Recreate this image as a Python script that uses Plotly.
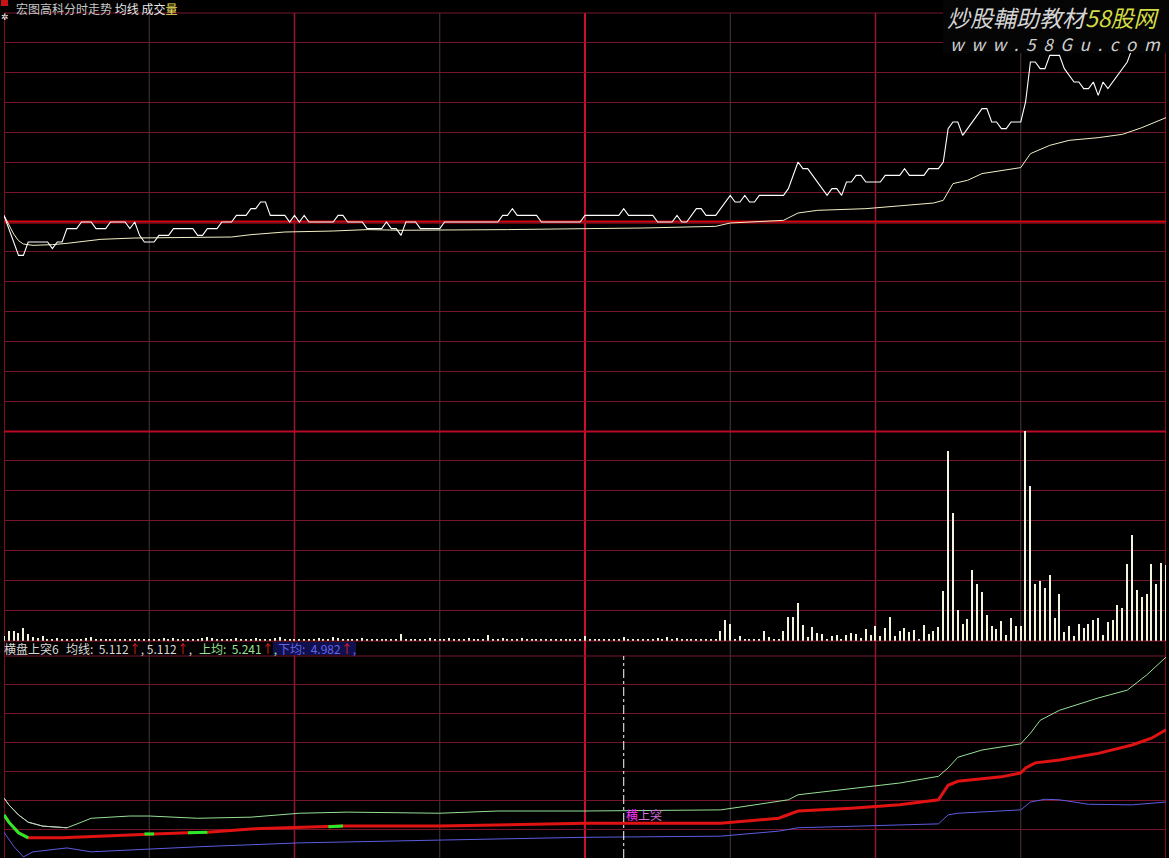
import plotly.graph_objects as go

W, H = 1169, 858

# ---------------- data ----------------
minutes = list(range(241))
prev_close = 4.96

price = [
    4.97, 4.95, 4.93, 4.91, 4.91, 4.93, 4.93, 4.93, 4.93, 4.93,
    4.92, 4.93, 4.93, 4.95, 4.95, 4.95, 4.96, 4.96, 4.96, 4.95,
    4.95, 4.95, 4.96, 4.96, 4.96, 4.96, 4.95, 4.96, 4.94, 4.93,
    4.93, 4.93, 4.94, 4.94, 4.94, 4.95, 4.95, 4.95, 4.95, 4.95,
    4.94, 4.94, 4.95, 4.95, 4.95, 4.96, 4.96, 4.96, 4.97, 4.97,
    4.97, 4.98, 4.98, 4.99, 4.99, 4.97, 4.97, 4.97, 4.97, 4.96,
    4.97, 4.96, 4.97, 4.96, 4.96, 4.96, 4.96, 4.96, 4.96, 4.97,
    4.97, 4.96, 4.96, 4.96, 4.96, 4.95, 4.95, 4.95, 4.95, 4.96,
    4.95, 4.95, 4.94, 4.96, 4.96, 4.96, 4.95, 4.95, 4.95, 4.95,
    4.95, 4.96, 4.96, 4.96, 4.96, 4.96, 4.96, 4.96, 4.96, 4.96,
    4.96, 4.96, 4.96, 4.97, 4.97, 4.98, 4.97, 4.97, 4.97, 4.97,
    4.97, 4.96, 4.96, 4.96, 4.96, 4.96, 4.96, 4.96, 4.96, 4.96,
    4.97, 4.97, 4.97, 4.97, 4.97, 4.97, 4.97, 4.97, 4.98, 4.97,
    4.97, 4.97, 4.97, 4.97, 4.97, 4.96, 4.96, 4.96, 4.96, 4.97,
    4.96, 4.96, 4.97, 4.98, 4.98, 4.97, 4.97, 4.97, 4.98, 4.99,
    5.00, 4.99, 4.99, 5.00, 4.99, 4.99, 5.00, 5.00, 5.00, 5.00,
    5.00, 5.00, 5.01, 5.03, 5.05, 5.04, 5.04, 5.03, 5.02, 5.01,
    5.00, 5.01, 5.01, 5.00, 5.02, 5.02, 5.03, 5.03, 5.02, 5.02,
    5.02, 5.02, 5.03, 5.03, 5.03, 5.03, 5.04, 5.03, 5.03, 5.03,
    5.03, 5.04, 5.04, 5.04, 5.05, 5.10, 5.11, 5.11, 5.09, 5.10,
    5.11, 5.12, 5.13, 5.13, 5.11, 5.11, 5.10, 5.10, 5.11, 5.11,
    5.11, 5.14, 5.20, 5.20, 5.19, 5.19, 5.21, 5.21, 5.21, 5.19,
    5.18, 5.17, 5.17, 5.16, 5.16, 5.17, 5.15, 5.17, 5.16, 5.17,
    5.18, 5.19, 5.20, 5.22, 5.23, 5.24, 5.25, 5.25, 5.26, 5.27, 5.27,
]

avg_minutes = [0, 1, 2, 3, 4, 6, 10, 13, 20, 27, 47, 51, 58, 68, 75, 82, 97, 104,
               120, 132, 147, 150, 161, 164, 168, 178, 192, 194, 196, 199, 202,
               206, 210, 212, 216, 220, 226, 231, 235, 240]
avg_price = [4.970, 4.955, 4.942, 4.932, 4.927, 4.925, 4.926, 4.928, 4.934, 4.936,
             4.9375, 4.941, 4.945, 4.9465, 4.9486, 4.9476, 4.9476, 4.9486,
             4.950, 4.951, 4.9535, 4.9585, 4.9625, 4.9735, 4.9775, 4.980, 4.9885,
             4.9925, 5.0176, 5.0225, 5.0326, 5.0375, 5.0416, 5.0625, 5.075,
             5.0825, 5.0865, 5.0915, 5.1015, 5.1165]

# volume, hundreds of lots per minute
volume = [
    5, 10, 10, 8, 13, 7, 4, 3, 5, 2,
    1, 3, 2, 1, 1, 1, 1, 3, 4, 2,
    1, 1, 1, 1, 1, 1, 1, 1, 1, 1,
    1, 1, 2, 3, 2, 3, 1, 1, 1, 1,
    1, 3, 4, 3, 1, 2, 1, 1, 3, 1,
    1, 2, 3, 2, 1, 1, 3, 4, 2, 1,
    1, 1, 2, 1, 2, 3, 2, 1, 4, 3,
    1, 1, 1, 2, 3, 1, 1, 1, 1, 1,
    2, 1, 7, 1, 1, 2, 1, 1, 3, 2,
    1, 2, 3, 2, 2, 1, 3, 2, 1, 2,
    6, 1, 2, 3, 2, 1, 1, 3, 2, 1,
    1, 1, 2, 1, 1, 1, 1, 1, 1, 1,
    5, 2, 1, 1, 1, 1, 1, 1, 4, 1,
    1, 1, 1, 1, 1, 3, 1, 4, 1, 3,
    1, 1, 1, 1, 1, 1, 2, 2, 10, 21,
    17, 2, 5, 2, 2, 2, 1, 10, 4, 2,
    2, 10, 24, 24, 38, 16, 4, 14, 8, 7,
    2, 5, 6, 2, 6, 8, 7, 3, 12, 6,
    15, 5, 13, 24, 5, 10, 13, 9, 11, 2,
    16, 7, 10, 14, 50, 189, 127, 31, 17, 22,
    70, 57, 49, 26, 15, 12, 20, 6, 23, 15,
    15, 209, 154, 57, 60, 53, 65, 23, 47, 9,
    15, 5, 17, 13, 17, 21, 23, 6, 19, 21,
    36, 33, 76, 105, 51, 44, 47, 76, 57, 77, 75,
]
volume_max = 209

# indicator 横盘上突6
up_minutes = [0, 1, 3, 5, 8, 13, 16, 18, 26, 30, 40, 51, 61, 71, 90, 102, 120, 148,
              152, 162, 164, 171, 179, 185, 193, 195, 197, 202, 210, 212, 214, 218,
              226, 232, 236, 240]
up_values = [4.989, 4.977, 4.959, 4.946, 4.939, 4.936, 4.946, 4.953, 4.957, 4.957,
             4.953, 4.955, 4.962, 4.964, 4.962, 4.966, 4.966, 4.968, 4.973, 4.986,
             4.995, 5.002, 5.009, 5.016, 5.028, 5.043, 5.062, 5.075, 5.086, 5.105,
             5.128, 5.146, 5.168, 5.182, 5.209, 5.241]
mid_minutes = [0, 1, 3, 5, 12, 20, 29, 31, 38, 42, 51, 61, 67, 70, 90, 102, 120, 148,
               160, 164, 175, 185, 193, 195, 197, 206, 210, 211, 213, 218, 226, 233,
               237, 240]
mid_values = [4.959, 4.946, 4.927, 4.918, 4.918, 4.921, 4.925, 4.925, 4.927, 4.928,
              4.934, 4.937, 4.938, 4.939, 4.939, 4.941, 4.944, 4.944, 4.953, 4.966,
              4.971, 4.977, 4.986, 5.012, 5.019, 5.027, 5.034, 5.043, 5.052, 5.057,
              5.069, 5.084, 5.096, 5.111]
low_minutes = [0, 2, 4, 6, 13, 18, 40, 61, 90, 120, 148, 160, 164, 179, 193, 195, 197,
               210, 212, 215, 218, 224, 233, 240]
low_values = [4.928, 4.903, 4.884, 4.893, 4.900, 4.893, 4.902, 4.909, 4.914, 4.919,
              4.921, 4.930, 4.936, 4.939, 4.943, 4.959, 4.962, 4.968, 4.982, 4.987,
              4.986, 4.978, 4.977, 4.982]
fall_spans = [(0, 5), (29, 31), (38, 42), (67, 70)]
signal_minute = 128
signal_value = 4.959
ind_range = [4.882, 5.243]
label_mid, label_up, label_low = 5.112, 5.241, 4.982

# ---------------- helpers ----------------
def py(y):
    return 1 - y / H

def px(x):
    return x / W

GRID = "rgb(118,22,44)"
FONT = "Noto Sans CJK SC"
UPC = "rgb(150,225,150)"
LOWC = "rgb(100,100,235)"
ARROW = "<span style='color:#E02020'>↑</span>"

fig = go.Figure()

# volume bars
fig.add_trace(go.Bar(x=minutes, y=volume, width=0.26,
                     marker=dict(color="#F4F4DC", line=dict(width=0)),
                     xaxis="x", yaxis="y2", hoverinfo="skip"))
# average price + price
fig.add_trace(go.Scatter(x=avg_minutes, y=avg_price, mode="lines",
                         line=dict(color="#F2F0C4", width=1), xaxis="x", yaxis="y",
                         hoverinfo="skip"))
fig.add_trace(go.Scatter(x=minutes, y=price, mode="lines",
                         line=dict(color="#FFFFFF", width=1.1), xaxis="x", yaxis="y",
                         hoverinfo="skip"))

# indicator lines
fig.add_trace(go.Scatter(x=low_minutes, y=low_values, mode="lines",
                         line=dict(color="rgb(92,92,225)", width=1), xaxis="x", yaxis="y3",
                         hoverinfo="skip"))
fig.add_trace(go.Scatter(x=up_minutes, y=up_values, mode="lines",
                         line=dict(color=UPC, width=1), xaxis="x", yaxis="y3",
                         hoverinfo="skip"))
fig.add_trace(go.Scatter(x=up_minutes[:6], y=up_values[:6], mode="lines",
                         line=dict(color="rgb(200,205,195)", width=1), xaxis="x", yaxis="y3",
                         hoverinfo="skip"))
fig.add_trace(go.Scatter(x=mid_minutes, y=mid_values, mode="lines",
                         line=dict(color="rgb(225,18,18)", width=3), xaxis="x", yaxis="y3",
                         hoverinfo="skip"))
gx, gy = [], []
for a, b in fall_spans:
    for m, v in zip(mid_minutes, mid_values):
        if a <= m <= b:
            gx.append(m)
            gy.append(v)
    gx.append(None)
    gy.append(None)
fig.add_trace(go.Scatter(x=gx, y=gy, mode="lines", connectgaps=False,
                         line=dict(color="rgb(40,235,40)", width=3), xaxis="x", yaxis="y3",
                         hoverinfo="skip"))

# ---------------- shapes ----------------
shapes = []
vcolors = {0: ("rgb(165,20,45)", 1.5), 30: ("rgb(72,56,62)", 1), 60: ("rgb(150,22,50)", 1.5),
           90: ("rgb(72,56,62)", 1), 120: ("rgb(205,15,45)", 2), 150: ("rgb(72,56,62)", 1),
           180: ("rgb(150,22,50)", 1.5), 210: ("rgb(72,56,62)", 1), 240: ("rgb(165,20,45)", 1.5)}
for m in range(0, 241, 30):
    c, w = vcolors[m]
    shapes.append(dict(type="line", xref="x", yref="paper", x0=m, x1=m,
                       y0=0, y1=py(13), line=dict(color=c, width=w), layer="below"))
# panel borders
for yy, c, w in [(13, GRID, 1), (431.5, "rgb(185,10,40)", 2), (641, "rgb(150,25,50)", 1),
                 (656, GRID, 1)]:
    shapes.append(dict(type="line", xref="paper", yref="paper", x0=px(4), x1=px(1166),
                       y0=py(yy), y1=py(yy), line=dict(color=c, width=w), layer="below"))
# previous close
shapes.append(dict(type="line", xref="paper", yref="y", x0=px(4), x1=px(1166),
                   y0=prev_close, y1=prev_close, line=dict(color="rgb(215,0,10)", width=3),
                   layer="below"))
# signal line
shapes.append(dict(type="line", xref="x", yref="paper", x0=signal_minute, x1=signal_minute,
                   y0=0, y1=py(656), line=dict(color="#FFFFFF", width=1, dash="dashdot")))
# highlight of 下均 label
shapes.append(dict(type="rect", xref="paper", yref="paper", x0=px(273), x1=px(356),
                   y0=py(655), y1=py(642), fillcolor="rgb(16,16,78)", line=dict(width=0),
                   layer="below"))
# watermark backing
shapes.append(dict(type="rect", xref="paper", yref="paper", x0=px(943), x1=1,
                   y0=py(53), y1=1, fillcolor="#050505", line=dict(width=0), layer="above"))
# small icon
shapes.append(dict(type="rect", xref="paper", yref="paper", x0=px(1), x1=px(8),
                   y0=py(6), y1=1, fillcolor="rgb(200,20,20)", line=dict(width=0)))

# ---------------- annotations ----------------
ann = []

def add_text(x, y, text, color, size=12, style="normal", pad=0):
    ann.append(dict(xref="paper", yref="paper", x=px(x), y=py(y), text=text,
                    showarrow=False, xanchor="left", yanchor="middle", borderpad=pad,
                    font=dict(family=FONT, size=size, color=color, style=style)))

add_text(15, 8.5, "宏图高科分时走势 <span style='color:#E8E8E8'>均线</span> "
         "<span style='color:#E8E8E8'>成交</span><span style='color:#F0E060'>量</span>",
         "#C8C8C8")
add_text(0, 16, "✲", "#FFFFFF", size=9)

# indicator header row
row_y = 648.5
add_text(3, row_y, "横盘上突6", "#D8D8D8")
add_text(65, row_y, f"均线:&nbsp; {label_mid:.3f}{ARROW}, {label_mid:.3f}{ARROW},",
         "#D8D8D8")
add_text(198, row_y, f"上均:&nbsp; {label_up:.3f}{ARROW},", UPC)
add_text(277, row_y, f"下均:&nbsp; {label_low:.3f}{ARROW},", LOWC)

# signal label
ann.append(dict(xref="x", yref="y3", x=signal_minute, y=signal_value,
                text="<span style='color:#FF30FF'>横</span>上突", showarrow=False,
                xanchor="left", yanchor="middle",
                font=dict(family=FONT, size=12, color="#D070D8")))

# watermark
add_text(946, 17, "炒股輔助教材<span style='color:#D4DC44'>58股网</span>", "#D4D4D4",
         size=23, style="italic")
add_text(949, 43, "w&nbsp;&nbsp;w&nbsp;&nbsp;w&nbsp;&nbsp;.&nbsp;&nbsp;5&nbsp;&nbsp;8&nbsp;&nbsp;"
         "G&nbsp;&nbsp;u&nbsp;&nbsp;.&nbsp;&nbsp;c&nbsp;&nbsp;o&nbsp;&nbsp;m", "#CFCFCF",
         size=17, style="italic")

# ---------------- layout ----------------
half = 0.3135
fig.update_layout(
    width=W, height=H, margin=dict(l=0, r=0, t=0, b=0),
    paper_bgcolor="#000000", plot_bgcolor="#000000", showlegend=False,
    hovermode=False, bargap=0,
    xaxis=dict(domain=[px(4), px(1166)], range=[0, 240], showgrid=False, zeroline=False,
               showticklabels=False, ticks="", anchor="y3", showline=False),
    yaxis=dict(domain=[py(431), py(13)], range=[prev_close - half, prev_close + half],
               tick0=prev_close, dtick=half / 7, showgrid=True, gridcolor=GRID, gridwidth=1,
               zeroline=False, showticklabels=False, ticks="", anchor="x"),
    yaxis2=dict(domain=[py(640.7), py(431)], range=[0, volume_max], tick0=0,
                dtick=volume_max / 7, showgrid=True, gridcolor=GRID, gridwidth=1,
                zeroline=False, showticklabels=False, ticks="", anchor="x"),
    yaxis3=dict(domain=[0, py(656)], range=ind_range, tick0=ind_range[0],
                dtick=(ind_range[1] - ind_range[0]) / 7, showgrid=True, gridcolor=GRID,
                gridwidth=1, zeroline=False, showticklabels=False, ticks="", anchor="x"),
    shapes=shapes, annotations=ann,
)

fig.write_html(
    "out.html",
    config={"displayModeBar": False},
    post_script="document.body.style.margin='0px';document.body.style.padding='0px';"
                "document.body.style.overflow='hidden';document.body.style.background='#000';",
)
